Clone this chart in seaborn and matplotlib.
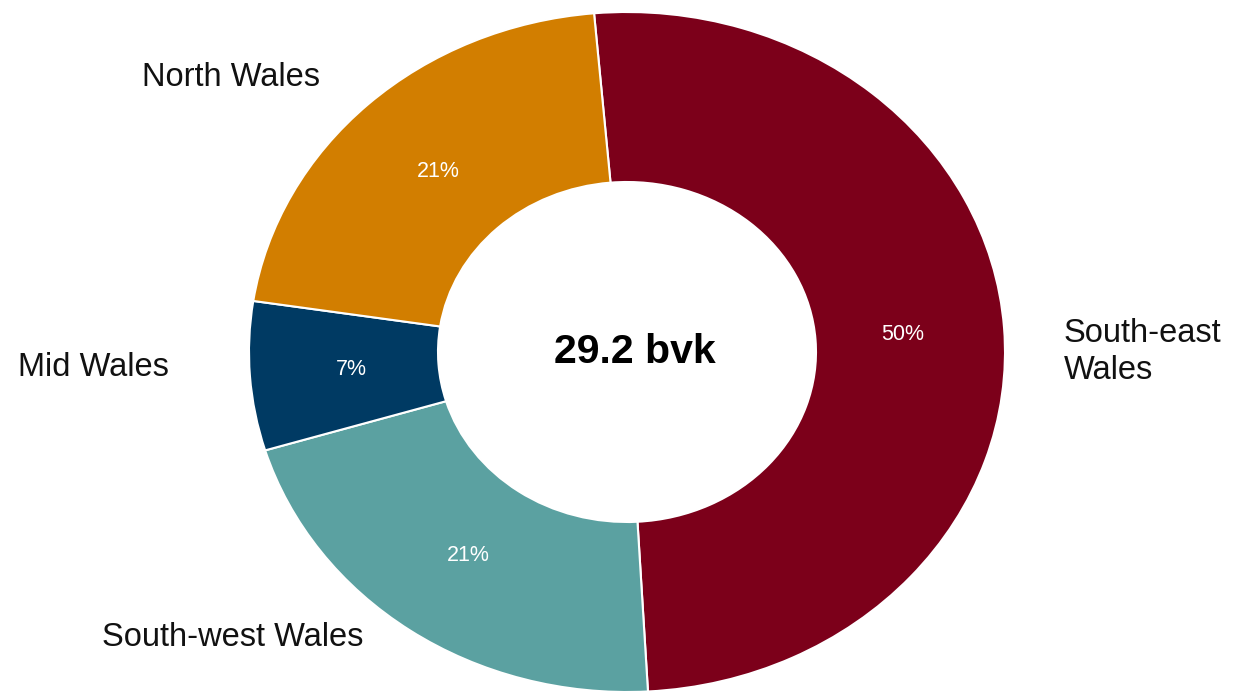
import matplotlib
matplotlib.use("Agg")
import matplotlib.pyplot as plt
import seaborn as sns

sns.set_theme(style="white")
plt.rcParams["font.family"] = ["Liberation Sans", "DejaVu Sans"]

# Regional shares (%), clockwise from the top
regions = ["South-east\nWales", "South-west Wales", "Mid Wales", "North Wales"]
shares = [50, 21, 7, 21]
total_label = "29.2 bvk"
colors = ["#7C001A", "#5BA1A1", "#003A63", "#D27E00"]

W, H = 1247, 693
fig = plt.figure(figsize=(W / 100, H / 100), dpi=100)
ax = fig.add_axes([0, 0, 1, 1])

wedges, texts, autotexts = ax.pie(
    shares,
    colors=colors,
    startangle=95,
    counterclock=False,
    radius=1.0,
    pctdistance=0.73,
    autopct=lambda p: "",
    wedgeprops=dict(width=0.5, edgecolor="white", linewidth=1.5),
)
for at, v in zip(autotexts, shares):
    at.set_text(f"{v}%")
    at.set_color("white")
    at.set_fontsize(15.5)

# Slightly wider than tall, centred left of the figure middle
cx, cy, rx, ry = 627, 352, 378, 340
ax.set_aspect("auto")
ax.set_xlim(-cx / rx, (W - cx) / rx)
ax.set_ylim(-(H - cy) / ry, cy / ry)
ax.axis("off")


def px(x, y):
    return (x - cx) / rx, (cy - y) / ry


ax.text(*px(635, 352), total_label, ha="center", va="center",
        fontsize=29.5, fontweight="bold", color="black")

label_pos = {
    "North Wales": (231, 77, "center"),
    "Mid Wales": (93, 367, "center"),
    "South-west Wales": (233, 637, "center"),
    "South-east\nWales": (1064, 352, "left"),
}
for name in regions:
    x, y, ha = label_pos[name]
    ax.text(*px(x, y), name, ha=ha, va="center", fontsize=23.5,
            color="#111111", linespacing=1.25)

fig.savefig("out.png", dpi=100, facecolor="white")
